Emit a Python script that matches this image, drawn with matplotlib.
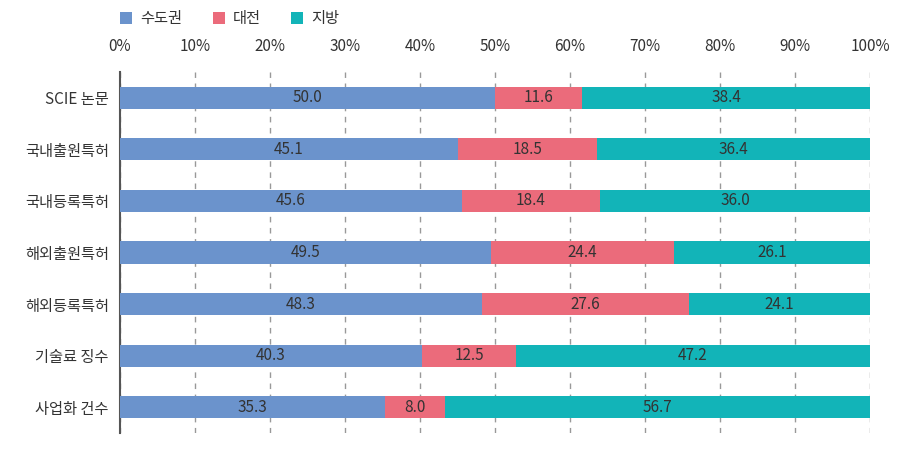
import matplotlib
matplotlib.use("Agg")
import matplotlib.pyplot as plt
from matplotlib.patches import Patch

plt.rcParams['font.family'] = ['Noto Sans CJK KR', 'DejaVu Sans']

categories = ["SCIE 논문", "국내출원특허", "국내등록특허", "해외출원특허", "해외등록특허", "기술료 징수", "사업화 건수"]
series_names = ["수도권", "대전", "지방"]
capital = [50.0, 45.1, 45.6, 49.5, 48.3, 40.3, 35.3]
daejeon = [11.6, 18.5, 18.4, 24.4, 27.6, 12.5, 8.0]
region = [38.4, 36.4, 36.0, 26.1, 24.1, 47.2, 56.7]
xticks = [0, 10, 20, 30, 40, 50, 60, 70, 80, 90, 100]
xticklabels = [f"{t}%" for t in xticks]

colors = ["#6b93cc", "#eb6b7b", "#12b4b8"]
text_color = "#333333"

fig = plt.figure(figsize=(9.18, 4.55), dpi=100)
ax = fig.add_axes([0.1307, 0.0484, 0.8170, 0.7934])

y = list(range(len(categories)))
left = [0.0] * len(categories)
for vals, col in zip([capital, daejeon, region], colors):
    ax.barh(y, vals, left=left, height=0.43, color=col, zorder=3)
    for yi, l, v in zip(y, left, vals):
        ax.text(l + v / 2, yi, f"{v:.1f}", ha="center", va="center",
                fontsize=11, color=text_color, zorder=4)
    left = [a + b for a, b in zip(left, vals)]

ax.set_xlim(0, 100)
ax.set_ylim(6.5, -0.5)
ax.set_yticks(y)
ax.set_yticklabels(categories, fontsize=11, color=text_color)
ax.set_xticks(xticks)
ax.set_xticklabels(xticklabels, fontsize=11, color=text_color)
ax.xaxis.tick_top()
ax.tick_params(axis="both", length=0, pad=8)
ax.tick_params(axis="x", pad=12)
for s in ["top", "right", "bottom"]:
    ax.spines[s].set_visible(False)
ax.spines["left"].set_color("#555555")
ax.spines["left"].set_linewidth(1.5)
ax.grid(axis="x", linestyle=(0, (4, 4)), color="#999999", linewidth=1, zorder=0)
ax.set_axisbelow(True)

handles = [Patch(facecolor=c, edgecolor="none") for c in colors]
fig.legend(handles, series_names, loc="upper left", bbox_to_anchor=(0.116, 1.008),
           ncol=3, frameon=False, fontsize=11, handlelength=0.8, handleheight=0.8,
           columnspacing=2.0, handletextpad=0.5, labelcolor=text_color)

fig.savefig("out.png", dpi=100)
